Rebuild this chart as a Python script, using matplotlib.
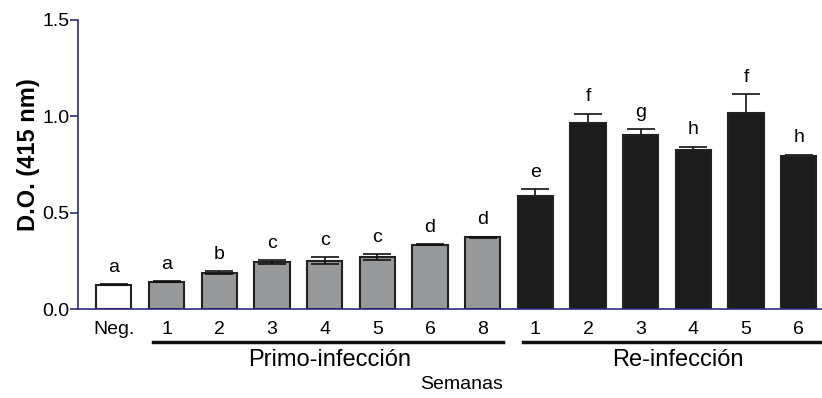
import matplotlib.pyplot as plt
from matplotlib.transforms import blended_transform_factory

plt.rcParams['font.family'] = ['Liberation Sans', 'DejaVu Sans']

# mean optical density and error per group
tick_labels = ['Neg.', '1', '2', '3', '4', '5', '6', '8', '1', '2', '3', '4', '5', '6']
values = [0.125, 0.142, 0.188, 0.242, 0.251, 0.271, 0.334, 0.372,
          0.588, 0.963, 0.903, 0.827, 1.017, 0.792]
errors = [0.003, 0.002, 0.008, 0.010, 0.017, 0.015, 0.004, 0.003,
          0.033, 0.050, 0.031, 0.015, 0.099, 0.009]
letters = ['a', 'a', 'b', 'c', 'c', 'c', 'd', 'd', 'e', 'f', 'g', 'h', 'f', 'h']
groups = ['neg'] + ['primo'] * 7 + ['re'] * 6

fill = {'neg': 'white', 'primo': '#98999b', 're': '#1c1c1c'}
navy = '#2e2e7a'

fig = plt.figure(figsize=(8.22, 3.98), dpi=100)
ax = fig.add_axes([78 / 822, 89 / 398, 744 / 822, 289 / 398])

x = list(range(len(values)))
ax.bar(x, values, width=0.67, color=[fill[g] for g in groups],
       edgecolor='#222222', linewidth=1.5, zorder=2)

# error bars: drawn on top of light bars, behind the black ones
for g, z in [('neg', 3), ('primo', 3), ('re', 1)]:
    idx = [i for i in x if groups[i] == g]
    ax.errorbar(idx, [values[i] for i in idx], yerr=[errors[i] for i in idx],
                fmt='none', ecolor='#111111', elinewidth=1.2, capsize=10,
                capthick=1.2, zorder=z)

for xi, v, e, t in zip(x, values, errors, letters):
    ax.annotate(t, (xi, v + e), xytext=(0, 6), textcoords='offset points',
                ha='center', va='bottom', fontsize=14)

ax.set_xlim(-0.68, 13.44)
ax.set_ylim(0, 1.5)
ax.set_yticks([0.0, 0.5, 1.0, 1.5])
ax.set_yticklabels(['0.0', '0.5', '1.0', '1.5'])
ax.set_xticks(x)
ax.set_xticklabels(tick_labels)
ax.tick_params(axis='y', direction='out', length=6, width=1.2, color=navy,
               pad=0, labelsize=14)
ax.tick_params(axis='x', length=0, pad=9, labelsize=14)

for side in ['top', 'right']:
    ax.spines[side].set_visible(False)
for side in ['left', 'bottom']:
    ax.spines[side].set_color(navy)
    ax.spines[side].set_linewidth(1.2)

ax.set_ylabel('D.O. (415 nm)', fontsize=17, fontweight='bold')
ax.yaxis.set_label_coords(-0.051, 0.533)

# group underlines and labels below the x axis
tr = blended_transform_factory(ax.transData, fig.transFigure)
ax.plot([0.74, 7.38], [0.1415, 0.1415], color='#111111', lw=2.5,
        transform=tr, clip_on=False)
ax.plot([7.76, 13.5], [0.1415, 0.1415], color='#111111', lw=2.5,
        transform=tr, clip_on=False)
ax.text(4.1, 0.095, 'Primo-infección', transform=tr, ha='center',
        va='center', fontsize=17)
ax.text(10.7, 0.095, 'Re-infección', transform=tr, ha='center',
        va='center', fontsize=17)
ax.text(6.6, 0.035, 'Semanas', transform=tr, ha='center', va='center',
        fontsize=14)

fig.savefig('out.png', dpi=100)
